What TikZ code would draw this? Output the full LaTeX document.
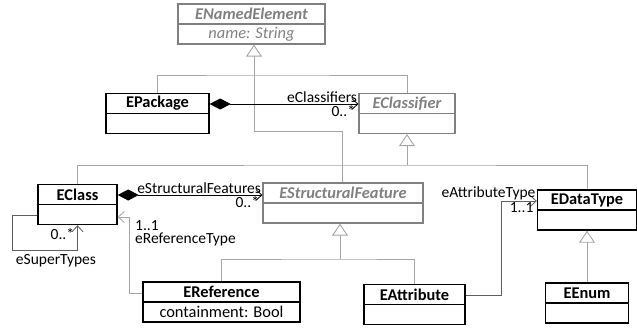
\documentclass[tikz,border=0pt]{standalone}
\usepackage{fontspec}
\setmainfont{Carlito}
\usetikzlibrary{arrows.meta}

\definecolor{umlgray}{RGB}{128,128,128}
\definecolor{linegray}{RGB}{165,165,165}
\definecolor{assocgray}{RGB}{95,95,95}

\newcommand{\boxfont}{\fontsize{16.4}{18}\selectfont}
\newcommand{\rolefont}{\fontsize{15.5}{13.5}\selectfont}

\tikzset{
  concrete/.style={draw=black, line width=1.4pt, inner sep=0pt, minimum height=40pt},
  abstract/.style={draw=umlgray, line width=1.2pt, inner sep=0pt, minimum height=40pt},
  concrete title/.style={font=\boxfont\bfseries, inner sep=0pt, anchor=center},
  abstract title/.style={font=\boxfont\bfseries\itshape, text=umlgray, inner sep=0pt, anchor=center},
  attr/.style={font=\boxfont, inner sep=0pt, anchor=center},
  gen/.style={draw=linegray, line width=0.9pt, -{Triangle[open, width=16pt, length=12pt]}},
  assoc/.style={draw=assocgray, line width=0.8pt, -{Straight Barb[length=6pt, width=11pt]}},
  comp/.style={draw=black, line width=0.8pt, {Diamond[length=21pt, width=11pt]}-{Straight Barb[length=6pt, width=11pt]}},
  role/.style={font=\rolefont, inner sep=1pt},
  mult/.style={role, below left, xshift=-2pt}
}

%% class box: name, position, width, kind, title, attribute
\newcommand{\umlclass}[6]{
  \node [#4, minimum width=#3] (#1) at #2 {};
  \draw [#4] (#1.west) -- (#1.east);
  \node [#4 title] (#1-title) at ([yshift=10pt]#1.center) {#5};
  \node [attr] (#1-attr) at ([yshift=-10pt]#1.center) {#6};
}

\begin{document}
\begin{tikzpicture}[x=1pt, y=-1pt]
  \useasboundingbox (0,0) rectangle (637,333);

  %% classes
  \umlclass{named}{(251.5,24)}{147pt}{abstract}{ENamedElement}{\color{umlgray}\itshape name: String}
  \umlclass{package}{(157.5,113.5)}{103pt}{concrete}{EPackage}{}
  \umlclass{classifier}{(407,113.5)}{96pt}{abstract}{EClassifier}{}
  \umlclass{class}{(77.5,204.5)}{79pt}{concrete}{EClass}{}
  \umlclass{feature}{(343,203)}{160pt}{abstract}{EStructuralFeature}{}
  \umlclass{datatype}{(587,210)}{99pt}{concrete}{EDataType}{}
  \umlclass{reference}{(221.5,302)}{157pt}{concrete}{EReference}{containment: Bool}
  \umlclass{attribute}{(414.5,304.5)}{101pt}{concrete}{EAttribute}{}
  \umlclass{enum}{(587,303)}{83pt}{concrete}{EEnum}{}

  %% generalizations
  \coordinate (namedfork) at (254,75);
  \coordinate (namedbend) at (254,131);
  \draw [gen, -] (package.north) |- (namedfork) -| (classifier.north);
  \draw [gen] (feature.north -| 342,0) |- (namedbend) -- (named.south -| namedbend);

  \coordinate (classifierfork) at (407,165);
  \draw [gen, -] (class.north) |- (classifierfork) -| (datatype.north);
  \draw [gen] (classifierfork) -- (classifier.south);

  \coordinate (featurefork) at (340,259);
  \draw [gen, -] (reference.north) |- (featurefork) -| (attribute.north);
  \draw [gen] (featurefork) -- (feature.south -| featurefork);

  \draw [gen] (enum.north) -- (datatype.south);

  %% compositions
  \draw [comp] (package.east |- 0,104) -- (classifier.west |- 0,104)
    node [role, above left] {eClassifiers}
    node [mult] {0..*};
  \draw [comp] (class.east |- 0,195) -- (feature.west |- 0,195)
    node [role, above left] {eStructuralFeatures}
    node [mult] {0..*};

  %% associations
  \coordinate (superleft) at (12,250);
  \draw [assoc] (class.west |- 0,215) -| (superleft) -| (class.south)
    node [mult, pos=0.97] {0..*};
  \node [role] (supername) at (56,261) {eSuperTypes};

  \coordinate (reftypebend) at (129,217);
  \draw [assoc, draw=linegray] (reference.west |- 0,293) -| (reftypebend) -- (class.east |- reftypebend);
  \node [role, anchor=north west, align=left] (reftypename) at (134,219) {1..1\\eReferenceType};

  \coordinate (atttypebend) at (501,201);
  \draw [assoc] (attribute.east |- 0,295) -| (atttypebend) -- (datatype.west |- atttypebend)
    node [role, above left] {eAttributeType}
    node [mult] {1..1};
\end{tikzpicture}
\end{document}
